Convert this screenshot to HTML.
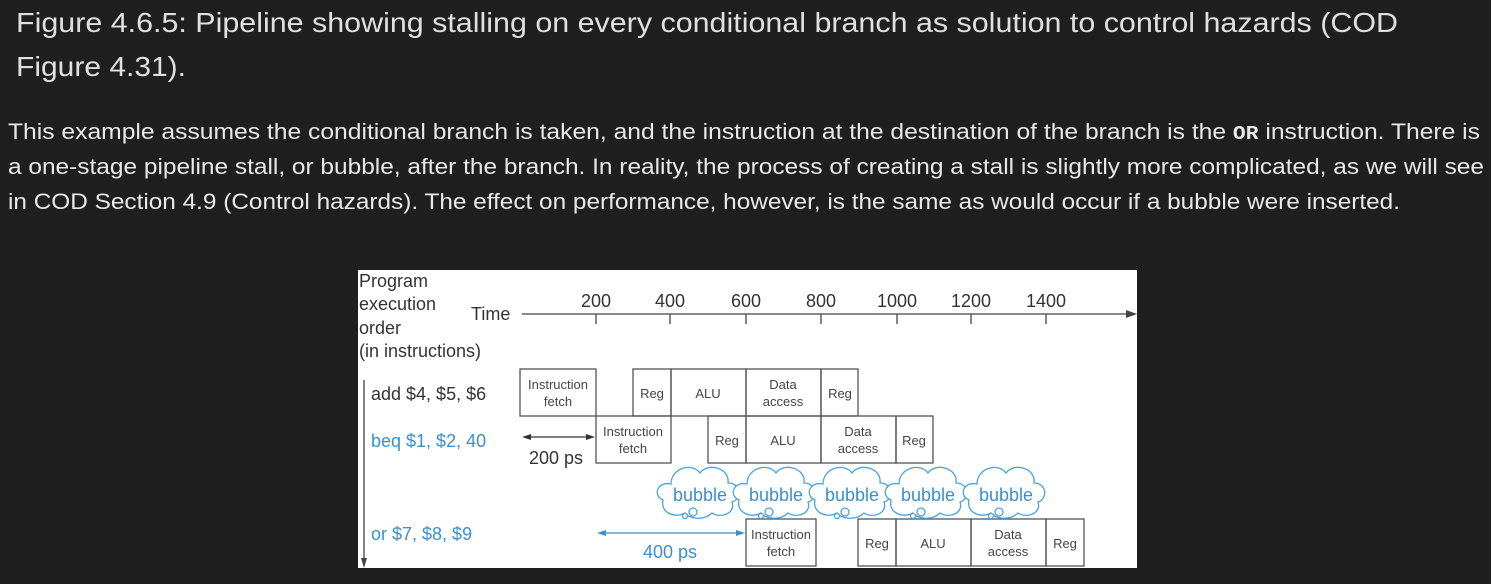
<!DOCTYPE html>
<html><head><meta charset="utf-8"><style>
html,body{margin:0;padding:0;background:#1f1f1f;}
svg{display:block}
</style></head><body>
<svg width="1491" height="584" xmlns="http://www.w3.org/2000/svg" font-family="Liberation Sans, sans-serif">
<rect width="1491" height="584" fill="#1f1f1f"/>
<g fill="#e0e0e0" font-size="28">
<text x="16" y="32" textLength="1382" lengthAdjust="spacingAndGlyphs">Figure 4.6.5: Pipeline showing stalling on every conditional branch as solution to control hazards (COD</text>
<text x="16" y="76" textLength="170" lengthAdjust="spacingAndGlyphs">Figure 4.31).</text>
</g>
<g fill="#e8e8e8" font-size="22">
<text x="8" y="139" textLength="1472" lengthAdjust="spacingAndGlyphs">This example assumes the conditional branch is taken, and the instruction at the destination of the branch is the <tspan font-family="Liberation Mono, monospace" font-weight="bold" font-size="19">OR</tspan> instruction. There is</text>
<text x="8" y="174" textLength="1476" lengthAdjust="spacingAndGlyphs">a one-stage pipeline stall, or bubble, after the branch. In reality, the process of creating a stall is slightly more complicated, as we will see</text>
<text x="8" y="209" textLength="1392" lengthAdjust="spacingAndGlyphs">in COD Section 4.9 (Control hazards). The effect on performance, however, is the same as would occur if a bubble were inserted.</text>
</g>
<rect x="358" y="270" width="779" height="298" fill="#fff"/>
<g fill="#333" font-size="18">
<text x="359" y="287">Program</text>
<text x="359" y="310">execution</text>
<text x="359" y="334">order</text>
<text x="359" y="357">(in instructions)</text>
<text x="471" y="320">Time</text>
</g>
<line x1="522" y1="314" x2="1130" y2="314" stroke="#444" stroke-width="1.3"/>
<polygon points="1137,314 1126,310 1126,318" fill="#444"/>
<g stroke="#444" stroke-width="1.3">
<line x1="596" y1="314" x2="596" y2="324"/><line x1="670" y1="314" x2="670" y2="324"/>
<line x1="746" y1="314" x2="746" y2="324"/><line x1="821" y1="314" x2="821" y2="324"/>
<line x1="897" y1="314" x2="897" y2="324"/><line x1="971" y1="314" x2="971" y2="324"/>
<line x1="1046" y1="314" x2="1046" y2="324"/>
</g>
<g fill="#333" font-size="18" text-anchor="middle">
<text x="596" y="307">200</text><text x="670" y="307">400</text><text x="746" y="307">600</text>
<text x="821" y="307">800</text><text x="897" y="307">1000</text><text x="971" y="307">1200</text><text x="1046" y="307">1400</text>
</g>
<line x1="364" y1="380" x2="364" y2="560" stroke="#444" stroke-width="1.3"/>
<polygon points="364,568 361,558 367,558" fill="#444"/>
<g font-size="18">
<text x="371" y="400" fill="#333">add $4, $5, $6</text>
<text x="371" y="447" fill="#3a8fd0">beq $1, $2, 40</text>
<text x="371" y="540" fill="#3a8fd0">or $7, $8, $9</text>
</g>
<g fill="none" stroke="#555" stroke-width="1.3">
<rect x="520" y="369" width="76" height="47"/>
<rect x="633" y="369" width="38" height="47"/><rect x="671" y="369" width="75" height="47"/>
<rect x="746" y="369" width="75" height="47"/><rect x="821" y="369" width="37" height="47"/>
<rect x="596" y="416" width="75" height="47"/>
<rect x="708" y="416" width="38" height="47"/><rect x="746" y="416" width="75" height="47"/>
<rect x="821" y="416" width="75" height="47"/><rect x="896" y="416" width="37" height="47"/>
<rect x="746" y="519" width="70" height="47"/>
<rect x="858" y="519" width="38" height="47"/><rect x="896" y="519" width="75" height="47"/>
<rect x="971" y="519" width="75" height="47"/><rect x="1046" y="519" width="38" height="47"/>
</g>
<g fill="#444" font-size="13" text-anchor="middle">
<text x="558" y="389">Instruction</text><text x="558" y="406">fetch</text>
<text x="652" y="398">Reg</text><text x="708" y="398">ALU</text>
<text x="783" y="389">Data</text><text x="783" y="406">access</text><text x="840" y="398">Reg</text>
<text x="633" y="436">Instruction</text><text x="633" y="453">fetch</text>
<text x="727" y="445">Reg</text><text x="783" y="445">ALU</text>
<text x="858" y="436">Data</text><text x="858" y="453">access</text><text x="914" y="445">Reg</text>
<text x="781" y="539">Instruction</text><text x="781" y="556">fetch</text>
<text x="877" y="548">Reg</text><text x="933" y="548">ALU</text>
<text x="1008" y="539">Data</text><text x="1008" y="556">access</text><text x="1065" y="548">Reg</text>
</g>
<line x1="527" y1="437" x2="590" y2="437" stroke="#333" stroke-width="1.3"/>
<polygon points="522,437 531,434 531,440" fill="#333"/><polygon points="595,437 586,434 586,440" fill="#333"/>
<text x="529" y="464" fill="#333" font-size="18">200 ps</text>
<line x1="602" y1="533" x2="740" y2="533" stroke="#3a8fd0" stroke-width="1.3"/>
<polygon points="597,533 606,530 606,536" fill="#3a8fd0"/><polygon points="745,533 736,530 736,536" fill="#3a8fd0"/>
<text x="643" y="558" fill="#3a8fd0" font-size="18">400 ps</text>
<g fill="#fff" stroke="#4aa3e0" stroke-width="1.3">
<g id="b1">
<path d="M663,500 C652,495 658,481 671,484 C671,468 692,462 700,473 C708,462 730,468 728,483 C741,483 742,499 732,502 C736,513 721,519 712,513 C704,521 689,519 685,513 C674,519 660,512 663,500 Z"/>
<circle cx="693" cy="512" r="4"/><circle cx="685" cy="516" r="2.5"/>
</g>
<use href="#b1" x="76"/><use href="#b1" x="152"/><use href="#b1" x="228"/><use href="#b1" x="306"/>
</g>
<g fill="#3a8fd0" font-size="18" text-anchor="middle">
<text x="700" y="501">bubble</text><text x="776" y="501">bubble</text><text x="852" y="501">bubble</text>
<text x="928" y="501">bubble</text><text x="1006" y="501">bubble</text>
</g>
</svg>
</body></html>
